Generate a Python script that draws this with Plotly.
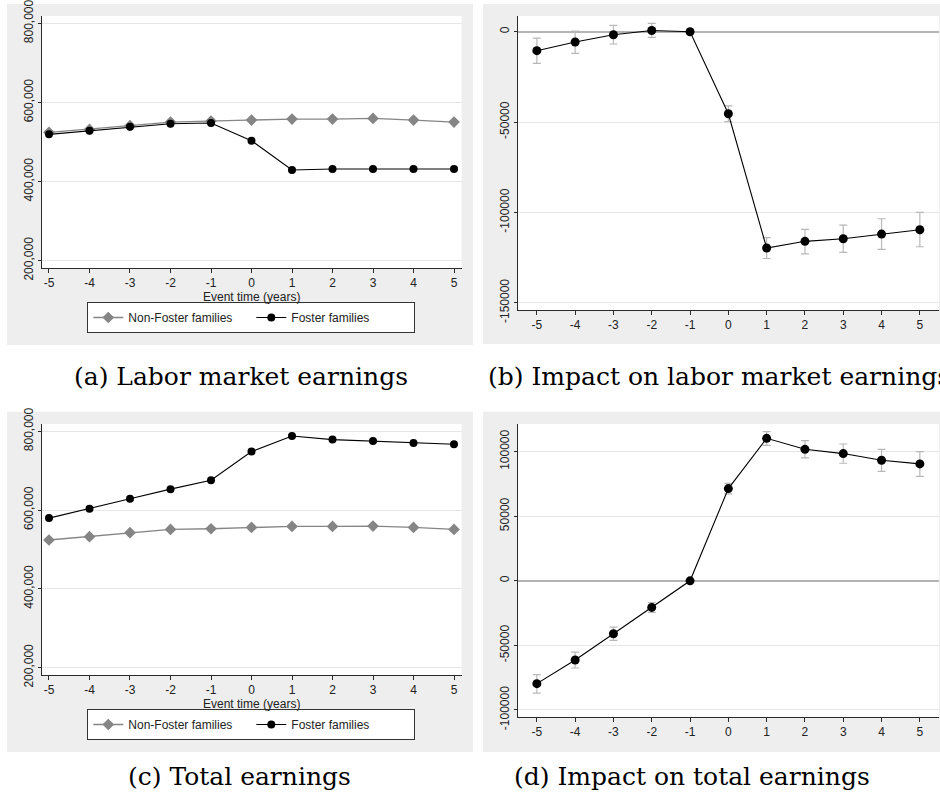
import plotly.graph_objects as go

W, H = 940, 802

# ---------------- data ----------------
event_time = [-5, -4, -3, -2, -1, 0, 1, 2, 3, 4, 5]
x_ticktext = ["-5", "-4", "-3", "-2", "-1", "0", "1", "2", "3", "4", "5"]

lab_nonfoster = [524400, 531900, 541200, 550400, 552900, 555500, 558000, 558000, 559700, 555500, 550400]
lab_foster = [519300, 528600, 538700, 546200, 547900, 503400, 429400, 431900, 431900, 431900, 431900]

tot_nonfoster = [524100, 532500, 542600, 551000, 552700, 556100, 558600, 558600, 559500, 556100, 551000]
tot_foster = [579700, 603400, 628700, 653200, 675900, 748500, 788200, 778900, 775500, 770500, 767100]

lab_coef = [-10500, -5700, -1700, 700, 0, -45400, -119700, -116000, -114600, -112000, -109600]
lab_ci_hi = [-3500, 400, 3500, 4600, 0, -41000, -114000, -109400, -107000, -103500, -100000]
lab_ci_lo = [-17500, -12000, -6800, -3100, 0, -49800, -125500, -122900, -122100, -120500, -119000]

tot_coef = [-79600, -61300, -41000, -20600, 0, 71400, 110300, 101800, 98500, 93300, 90500]
tot_ci_hi = [-72700, -55200, -35800, -16800, 0, 75500, 115500, 108500, 105900, 101800, 100000]
tot_ci_lo = [-86900, -67500, -46100, -24500, 0, 67300, 104900, 95100, 91000, 84800, 80900]

level_tickvals = [200000, 400000, 600000, 800000]
level_ticktext = ["200,000", "400,000", "600,000", "800,000"]
labimp_tickvals = [-150000, -100000, -50000, 0]
labimp_ticktext = ["-150000", "-100000", "-50000", "0"]
totimp_tickvals = [-100000, -50000, 0, 50000, 100000]
totimp_ticktext = ["-100000", "-50000", "0", "50000", "100000"]

series_names = ["Non-Foster families", "Foster families"]
x_title = "Event time (years)"
captions = ["(a) Labor market earnings", "(b) Impact on labor market earnings",
            "(c) Total earnings", "(d) Impact on total earnings"]

# ---------------- styles ----------------
SANS = "Liberation Sans, Arial, sans-serif"
SERIF = "DejaVu Serif, serif"
GREY_BG = "#eeeeee"
GRID = "#e6e6e6"
AX = "#2a2a2a"
NF_COLOR = "#858585"


def px_x(p):
    return p / W


def px_y(p):
    return 1 - p / H


fig = go.Figure()

# panel backgrounds (grey graph regions)
for (x0, x1, y0, y1) in [(7, 473, 4, 345), (483, 945, 4, 344),
                         (7, 473, 411.7, 752), (483, 945, 411.7, 752)]:
    fig.add_shape(type="rect", xref="paper", yref="paper",
                  x0=px_x(x0), x1=px_x(x1), y0=px_y(y1), y1=px_y(y0),
                  fillcolor=GREY_BG, line=dict(width=0), layer="below")
# white plot regions on top of the grey
for ax in ["x", "x2", "x3", "x4"]:
    ay = ax.replace("x", "y")
    fig.add_shape(type="rect", xref=ax + " domain", yref=ay + " domain",
                  x0=0, x1=1, y0=0, y1=1, fillcolor="white",
                  line=dict(width=0), layer="below")


def level_traces(nonf, fost, xa, ya, legend):
    fig.add_trace(go.Scatter(
        x=event_time, y=nonf, mode="lines+markers", name=series_names[0],
        line=dict(color=NF_COLOR, width=1.3),
        marker=dict(symbol="diamond", size=9, color=NF_COLOR),
        xaxis=xa, yaxis=ya, legend=legend))
    fig.add_trace(go.Scatter(
        x=event_time, y=fost, mode="lines+markers", name=series_names[1],
        line=dict(color="black", width=1.1),
        marker=dict(symbol="circle", size=8, color="black"),
        xaxis=xa, yaxis=ya, legend=legend))


def impact_traces(coef, hi, lo, xa, ya):
    plus = [h - c for h, c in zip(hi, coef)]
    minus = [c - l for c, l in zip(coef, lo)]
    fig.add_trace(go.Scatter(
        x=event_time, y=coef, mode="markers", showlegend=False,
        marker=dict(size=1, opacity=0),
        error_y=dict(type="data", array=plus, arrayminus=minus, symmetric=False,
                     color="#b8b8b8", thickness=1.2, width=4),
        xaxis=xa, yaxis=ya))
    fig.add_trace(go.Scatter(
        x=event_time, y=coef, mode="lines+markers", showlegend=False,
        line=dict(color="black", width=1.1),
        marker=dict(symbol="circle", size=9, color="black"),
        xaxis=xa, yaxis=ya))


level_traces(lab_nonfoster, lab_foster, "x", "y", "legend")
impact_traces(lab_coef, lab_ci_hi, lab_ci_lo, "x2", "y2")
level_traces(tot_nonfoster, tot_foster, "x3", "y3", "legend2")
impact_traces(tot_coef, tot_ci_hi, tot_ci_lo, "x4", "y4")

tickfont = dict(family=SANS, size=12, color="#222")


def xaxis(dom, rng, anchor, title=None):
    d = dict(domain=[px_x(dom[0]), px_x(dom[1])], range=rng, anchor=anchor,
             tickvals=event_time, ticktext=x_ticktext, ticks="outside", ticklen=4,
             tickcolor=AX, showline=True, linecolor=AX, linewidth=1,
             showgrid=False, zeroline=False, tickfont=tickfont, fixedrange=True,
             automargin=False, ticklabeloverflow="allow")
    if title:
        d["title"] = dict(text=title, font=dict(family=SANS, size=12, color="#222"), standoff=0)
    return d


def yaxis(dom, rng, tv, tt, anchor, zero=False):
    return dict(domain=[px_y(dom[1]), px_y(dom[0])], range=rng, anchor=anchor,
                tickvals=tv, ticktext=tt, ticks="outside", ticklen=3,
                tickcolor=AX, showline=True, linecolor=AX, linewidth=1,
                showgrid=True, gridcolor=GRID, gridwidth=1,
                zeroline=zero, zerolinecolor="#b4b4b4", zerolinewidth=2,
                tickangle=-90, tickfont=tickfont, fixedrange=True, automargin=False,
                ticklabeloverflow="allow")


layout = dict(
    width=W, height=H, margin=dict(l=0, r=0, t=0, b=0, autoexpand=False),
    paper_bgcolor="white", plot_bgcolor="white",
    xaxis=xaxis((41.7, 461.7), [-5.18, 5.19], "y", x_title),
    yaxis=yaxis((16, 268), [181500, 818500], level_tickvals, level_ticktext, "x"),
    xaxis2=xaxis((517.7, 939), [-5.5, 5.5], "y2"),
    yaxis2=yaxis((16, 310), [-154000, 8700], labimp_tickvals, labimp_ticktext, "x2", zero=True),
    xaxis3=xaxis((41.7, 461.7), [-5.18, 5.19], "y3", x_title),
    yaxis3=yaxis((424, 675), [181500, 818500], level_tickvals, level_ticktext, "x3"),
    xaxis4=xaxis((517.7, 939), [-5.5, 5.5], "y4"),
    yaxis4=yaxis((424, 716.7), [-105200, 121400], totimp_tickvals, totimp_ticktext, "x4", zero=True),
    showlegend=True,
)


def legend_cfg(cy):
    return dict(orientation="h", x=px_x(251.3), y=px_y(cy), xanchor="center", yanchor="middle",
                bordercolor="#333", borderwidth=1, bgcolor="white",
                font=dict(family=SANS, size=12, color="#222"),
                entrywidth=118, itemwidth=30, tracegroupgap=0)


layout["legend"] = legend_cfg(317.5)
layout["legend2"] = legend_cfg(724.5)

fig.update_layout(**layout)

# captions
for text, cx, cy, anchor in [(captions[0], 241, 376, "center"), (captions[1], 486, 376, "left"),
                             (captions[2], 240, 776, "center"), (captions[3], 692, 776, "center")]:
    fig.add_annotation(text=text, xref="paper", yref="paper", x=px_x(cx), y=px_y(cy),
                       xanchor=anchor, yanchor="middle", showarrow=False,
                       font=dict(family=SERIF, size=25, color="black"))

fig.write_html("out.html", config={"displayModeBar": False, "staticPlot": False},
               post_script="document.body.style.margin='0';")
